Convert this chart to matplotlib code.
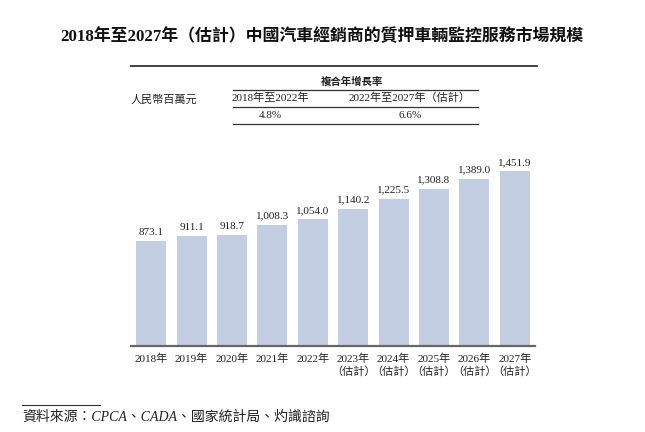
import matplotlib
matplotlib.use("Agg")
import matplotlib.pyplot as plt
from matplotlib.lines import Line2D

plt.rcParams['font.family'] = ['Liberation Serif', 'Noto Sans CJK TC', 'DejaVu Sans']

years = ["2018年", "2019年", "2020年", "2021年", "2022年",
         "2023年\n（估計）", "2024年\n（估計）", "2025年\n（估計）",
         "2026年\n（估計）", "2027年\n（估計）"]
values = [873.1, 911.1, 918.7, 1008.3, 1054.0, 1140.2, 1225.5, 1308.8, 1389.0, 1451.9]

title = "2018年至2027年（估計）中國汽車經銷商的質押車輛監控服務市場規模"
unit = "人民幣百萬元"
cagr_head = "複合年增長率"
periods = ["2018年至2022年", "2022年至2027年（估計）"]
cagr = ["4.8%", "6.6%"]
source = "資料來源：CPCA、CADA、國家統計局、灼識諮詢"

W, H = 645, 432
fig = plt.figure(figsize=(W / 100, H / 100), dpi=100)


def fx(x):
    return x / W


def fy(y):
    return 1 - y / H


def hline(x0, x1, y, lw=0.9, color="#333333"):
    fig.add_artist(Line2D([fx(x0), fx(x1)], [fy(y), fy(y)], lw=lw, color=color,
                          transform=fig.transFigure))


ax = fig.add_axes([fx(131), fy(346), fx(535) - fx(131), fy(153.5) - fy(346)])
x = range(len(values))
bars = ax.bar(x, values, width=0.74, color="#c3cee2")
for b, v in zip(bars, values):
    ax.text(b.get_x() + b.get_width() / 2, v + 35, f"{v:,.1f}",
            ha="center", va="bottom", fontsize=8, color="#222222")
ax.set_xlim(-0.5, len(values) - 0.5)
ax.set_ylim(0, 1600)
ax.set_xticks(list(x), years, fontsize=8, color="#222222", linespacing=1.25)
ax.tick_params(axis="x", length=0, pad=5.5)
ax.set_yticks([])
for s in ["top", "left", "right"]:
    ax.spines[s].set_visible(False)
ax.spines["bottom"].set_color("#666666")
ax.spines["bottom"].set_linewidth(1.6)

# title
fig.text(fx(322), fy(37), title, ha="center", va="center", fontsize=12.2,
         fontweight="bold", color="#111111")

# CAGR table
hline(131, 537, 66, lw=1.3)
fig.text(fx(352), fy(82), cagr_head, ha="center", va="center", fontsize=7.5,
         fontweight="bold", color="#222222")
hline(233, 478, 90)
fig.text(fx(131), fy(100), unit, ha="left", va="center", fontsize=8, color="#222222")
fig.text(fx(270), fy(98), periods[0], ha="center", va="center", fontsize=8, color="#222222")
fig.text(fx(410), fy(98), periods[1], ha="center", va="center", fontsize=8, color="#222222")
hline(233, 478, 107)
fig.text(fx(270), fy(115.5), cagr[0], ha="center", va="center", fontsize=8, color="#222222")
fig.text(fx(410), fy(115.5), cagr[1], ha="center", va="center", fontsize=8, color="#222222")
hline(233, 478, 124)

# source
hline(22, 100, 405, lw=0.8)
fig.text(fx(22), fy(417), source, ha="left", va="center", fontsize=10,
         style="italic", color="#222222")

fig.savefig("out.png", dpi=100)
